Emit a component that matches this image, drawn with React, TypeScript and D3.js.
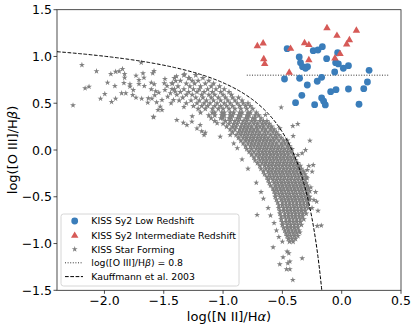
import * as d3 from 'd3'

// KISS Seyfert 2 (low redshift), [log NII/Ha, log OIII/Hb]
const sy2Low: [number, number][] = [
  [-0.46, 1.083], [-0.482, 0.759], [-0.358, 0.995], [-0.347, 0.934], [-0.33, 0.891],
  [-0.305, 0.874], [-0.288, 0.891], [-0.355, 0.767], [-0.29, 0.695], [-0.336, 0.585],
  [-0.389, 0.506], [-0.24, 1.062], [-0.2, 1.069], [-0.163, 1.105], [-0.127, 0.976],
  [-0.206, 0.735], [-0.169, 0.777], [-0.228, 0.485], [-0.169, 0.556], [-0.152, 0.521],
  [-0.138, 0.482], [-0.093, 0.624], [-0.048, 0.645], [-0.034, 1.04], [-0.051, 0.934],
  [-0.028, 0.92], [-0.059, 0.834], [0.014, 0.874], [0.057, 0.902], [0.057, 0.652],
  [0.146, 0.489], [0.186, 0.656], [0.217, 0.727], [0.231, 0.852],
]

// KISS Seyfert 2 (intermediate redshift)
const sy2Mid: [number, number][] = [
  [-0.711, 1.112], [-0.662, 1.141], [-0.657, 0.973], [-0.649, 0.92], [-0.431, 1.083],
  [-0.442, 0.827], [-0.313, 1.144], [-0.277, 1.123], [-0.277, 0.962], [-0.124, 1.304],
  [-0.04, 1.222], [0.124, 1.276], [0.042, 1.13], [0.065, 1.176], [-0.057, 0.98],
  [-0.014, 1.027],
]

// star-forming galaxies, main sequence: rows of [logOIII/Hb, logNII/Ha, logNII/Ha, ...]
const sfRows: number[][] = [
  [0.8, -1.33, -1.23],
  [0.77, -1.41, -1.29, -1.17],
  [0.74, -1.36, -1.26, -1.21, -1.12],
  [0.71, -1.43, -1.31, -1.24, -1.15, -1.08],
  [0.68, -1.38, -1.28, -1.19, -1.1, -1.03],
  [0.65, -1.41, -1.33, -1.25, -1.2, -1.13, -1.06, -0.99],
  [0.62, -1.36, -1.29, -1.22, -1.16, -1.09, -1.02, -0.95],
  [0.59, -1.39, -1.31, -1.26, -1.18, -1.12, -1.07, -1.0, -0.93],
  [0.56, -1.34, -1.23, -1.17, -1.1, -1.04, -0.98, -0.92, -0.87],
  [0.53, -1.37, -1.27, -1.2, -1.14, -1.08, -1.02, -0.96, -0.9, -0.84],
  [0.5, -1.31, -1.22, -1.16, -1.11, -1.05, -0.99, -0.94, -0.88, -0.83, -0.79],
  [0.47, -1.25, -1.18, -1.13, -1.07, -1.02, -0.97, -0.92, -0.86, -0.81, -0.77],
  [0.44, -1.21, -1.15, -1.09, -1.04, -1.0, -0.95, -0.9, -0.85, -0.8, -0.75],
  [0.4, -1.19, -1.09, -1.07, -1.01, -0.99, -0.94, -0.91, -0.86, -0.84, -0.79, -0.77, -0.72],
  [0.37, -1.12, -1.07, -1.01, -0.99, -0.94, -0.92, -0.87, -0.85, -0.8, -0.78, -0.73, -0.7],
  [0.34, -1.1, -1.02, -1.0, -0.95, -0.93, -0.88, -0.86, -0.81, -0.79, -0.75, -0.73, -0.68],
  [0.31, -1.07, -0.98, -0.94, -0.9, -0.87, -0.83, -0.8, -0.76, -0.73, -0.69, -0.66, -0.63],
  [0.28, -1.0, -0.95, -0.91, -0.88, -0.84, -0.81, -0.78, -0.74, -0.71, -0.67, -0.64, -0.61],
  [0.25, -0.97, -0.92, -0.89, -0.85, -0.82, -0.79, -0.76, -0.72, -0.69, -0.66, -0.62, -0.59],
  [0.22, -0.94, -0.9, -0.86, -0.83, -0.8, -0.77, -0.74, -0.71, -0.67, -0.64, -0.6, -0.57],
  [0.19, -0.92, -0.87, -0.84, -0.81, -0.78, -0.75, -0.72, -0.69, -0.65, -0.62, -0.58, -0.55],
  [0.16, -0.89, -0.85, -0.82, -0.79, -0.76, -0.73, -0.7, -0.67, -0.64, -0.6, -0.56, -0.53],
  [0.13, -0.87, -0.83, -0.8, -0.77, -0.74, -0.71, -0.68, -0.65, -0.62, -0.58, -0.55, -0.51],
  [0.1, -0.85, -0.81, -0.78, -0.75, -0.72, -0.69, -0.66, -0.63, -0.6, -0.57, -0.53, -0.49, -0.46],
  [0.07, -0.83, -0.79, -0.76, -0.73, -0.7, -0.67, -0.64, -0.61, -0.58, -0.55, -0.51, -0.48, -0.45],
  [0.04, -0.81, -0.77, -0.74, -0.71, -0.68, -0.65, -0.62, -0.59, -0.56, -0.53, -0.5, -0.46, -0.44],
  [0.01, -0.8, -0.76, -0.72, -0.69, -0.66, -0.63, -0.6, -0.57, -0.54, -0.51, -0.48, -0.45, -0.42],
  [-0.02, -0.78, -0.74, -0.7, -0.67, -0.64, -0.61, -0.58, -0.55, -0.52, -0.49, -0.46, -0.43],
  [-0.05, -0.76, -0.72, -0.69, -0.66, -0.63, -0.6, -0.57, -0.54, -0.51, -0.48, -0.45, -0.41],
  [-0.08, -0.74, -0.7, -0.67, -0.64, -0.61, -0.58, -0.55, -0.52, -0.49, -0.46, -0.43, -0.4],
  [-0.11, -0.73, -0.69, -0.66, -0.63, -0.6, -0.57, -0.54, -0.51, -0.48, -0.45, -0.42, -0.39],
  [-0.14, -0.71, -0.67, -0.64, -0.61, -0.58, -0.55, -0.52, -0.49, -0.46, -0.43, -0.4, -0.37],
  [-0.17, -0.69, -0.65, -0.62, -0.59, -0.56, -0.53, -0.5, -0.47, -0.44, -0.41, -0.38, -0.35],
  [-0.2, -0.68, -0.64, -0.61, -0.58, -0.55, -0.52, -0.49, -0.46, -0.43, -0.4, -0.37, -0.34],
  [-0.23, -0.66, -0.62, -0.59, -0.56, -0.53, -0.5, -0.47, -0.44, -0.41, -0.38, -0.35, -0.32],
  [-0.26, -0.65, -0.61, -0.58, -0.55, -0.52, -0.49, -0.46, -0.43, -0.4, -0.37, -0.34, -0.31],
  [-0.29, -0.63, -0.6, -0.57, -0.54, -0.51, -0.48, -0.45, -0.42, -0.39, -0.36, -0.33, -0.3],
  [-0.32, -0.62, -0.58, -0.55, -0.52, -0.49, -0.46, -0.43, -0.4, -0.37, -0.34, -0.31],
  [-0.35, -0.61, -0.57, -0.54, -0.51, -0.48, -0.45, -0.42, -0.39, -0.36, -0.33, -0.3],
  [-0.38, -0.6, -0.56, -0.53, -0.5, -0.47, -0.44, -0.41, -0.38, -0.35, -0.32, -0.29],
  [-0.41, -0.58, -0.55, -0.52, -0.49, -0.46, -0.43, -0.4, -0.37, -0.34, -0.31, -0.28],
  [-0.44, -0.57, -0.54, -0.51, -0.48, -0.45, -0.42, -0.39, -0.36, -0.33, -0.3, -0.27],
  [-0.47, -0.56, -0.53, -0.5, -0.47, -0.44, -0.41, -0.38, -0.35, -0.32, -0.29],
  [-0.5, -0.56, -0.52, -0.49, -0.46, -0.43, -0.4, -0.37, -0.34, -0.31, -0.28],
  [-0.53, -0.55, -0.51, -0.48, -0.45, -0.42, -0.39, -0.36, -0.33, -0.3, -0.27],
  [-0.56, -0.54, -0.5, -0.47, -0.44, -0.41, -0.38, -0.35, -0.32, -0.29],
  [-0.59, -0.53, -0.5, -0.47, -0.44, -0.41, -0.38, -0.35, -0.32, -0.29],
  [-0.62, -0.53, -0.49, -0.46, -0.43, -0.4, -0.37, -0.34, -0.31, -0.28],
  [-0.65, -0.52, -0.49, -0.46, -0.43, -0.4, -0.37, -0.34, -0.31],
  [-0.68, -0.52, -0.48, -0.45, -0.42, -0.39, -0.36, -0.33, -0.3],
  [-0.71, -0.51, -0.48, -0.45, -0.42, -0.39, -0.36, -0.33],
  [-0.74, -0.51, -0.47, -0.44, -0.41, -0.38, -0.35, -0.32],
  [-0.77, -0.5, -0.47, -0.44, -0.41, -0.38, -0.35],
  [-0.8, -0.5, -0.46, -0.43, -0.4, -0.37, -0.34],
  [-0.83, -0.49, -0.46, -0.43, -0.4, -0.37],
  [-0.86, -0.48, -0.45, -0.42, -0.39, -0.36],
  [-0.89, -0.47, -0.44, -0.41, -0.38],
  [-0.92, -0.46, -0.43, -0.4, -0.37],
  [-0.95, -0.45, -0.42, -0.39],
  [-0.98, -0.44, -0.41],
]

// star-forming galaxies away from the main sequence
const sfSparse: [number, number][] = [
  [-2.19, 0.909], [-2.265, 0.478], [-2.163, 0.66], [-2.13, 0.677], [-2.067, 0.842],
  [-1.974, 0.72], [-1.997, 0.599], [-2.033, 0.549], [-1.94, 0.514], [-1.906, 0.549],
  [-1.946, 0.813], [-1.906, 0.837], [-1.876, 0.842], [-1.848, 0.866], [-1.83, 0.813],
  [-1.83, 0.773], [-1.912, 0.685], [-1.855, 0.607], [-1.82, 0.607], [-1.836, 0.717],
  [-1.785, 0.703], [-1.785, 0.677], [-1.762, 0.588], [-1.734, 0.56], [-1.757, 0.642],
  [-1.734, 0.795], [-1.709, 0.749], [-1.709, 0.706], [-1.675, 0.82], [-1.667, 0.773],
  [-1.69, 0.934], [-1.664, 0.685], [-1.686, 0.549], [-1.63, 0.553], [-1.635, 0.506],
  [-1.593, 0.82], [-1.582, 0.845], [-1.605, 0.72], [-1.58, 0.703], [-1.605, 0.649],
  [-1.568, 0.628], [-1.542, 0.613], [-1.576, 0.585], [-1.6, 0.549], [-1.56, 0.51],
  [-1.53, 0.463], [-1.515, 0.428], [-1.548, 0.428], [-1.585, 0.35], [-1.515, 0.535],
  [-1.495, 0.713], [-1.472, 0.685], [-1.49, 0.76], [-1.467, 0.57], [-1.49, 0.642],
  [-1.43, 0.652], [-1.427, 0.713], [-1.399, 0.738], [-1.438, 0.5], [-1.418, 0.535],
  [-1.404, 0.624], [-1.444, 0.607], [-1.393, 0.788], [-1.588, 0.356], [-1.39, 0.32],
  [-1.335, 0.292], [-1.325, 0.81], [-1.283, 0.767], [-1.305, 0.268], [-1.263, 0.303],
  [-1.15, 0.186], [-1.193, 0.268], [-1.05, 0.286], [-1.024, 0.143], [-0.94, 0.161],
  [-1.26, 0.36], [-1.22, 0.23], [-1.33, 0.46], [-1.18, 0.2], [-1.16, 0.16],
  [-0.91, 0.07], [-0.88, 0.02], [-0.84, -0.1], [-0.79, -0.2], [-0.72, -0.35],
  [-0.68, -0.45], [-0.66, -0.52], [-0.62, -0.62], [-0.6, -0.7], [-0.57, -0.78],
  [-0.55, -0.86], [-0.53, -0.93], [-0.5, -0.98],
  [-0.713, -0.694], [-0.578, -1.04], [-0.522, -1.222], [-0.494, -1.147], [-0.446, -1.104],
  [-0.46, -1.086], [-0.454, -1.211], [-0.465, -1.275], [-0.437, -1.275], [-0.412, -1.389],
  [-0.333, -1.158], [-0.172, -0.808], [-0.206, -0.812], [-0.353, -0.883], [-0.234, -0.534],
  [-0.211, -0.552], [-0.29, -0.214], [-0.24, -0.16], [-0.333, -0.035], [-0.369, -0.053],
  [-0.409, 0.15], [-0.412, 0.257], [-0.37, 0.278], [-0.51, 0.456], [-0.522, 0.232],
  [-0.643, 0.375], [-0.268, 0.1], [-0.305, 0.0], [-0.277, -0.17], [-0.249, -0.231],
  [-0.291, -0.302], [-0.437, -1.193], [-0.26, -0.4], [-0.22, -0.45], [-0.25, -0.62],
  [-0.2, -0.65], [-0.27, -0.5],
]

// Kauffmann et al. 2003 demarcation: y = a / (x - b) + c
const kauffA = 0.61
const kauffB = 0.05
const kauffC = 1.3
const demarcY = 0.8
const demarcRange = [-0.8, 0.4]

const xTicks = [-2.0, -1.5, -1.0, -0.5, 0.0, 0.5]
const yTicks = [-1.5, -1.0, -0.5, 0.0, 0.5, 1.0, 1.5]

const legendLabels = [
  'KISS Sy2 Low Redshift',
  'KISS Sy2 Intermediate Redshift',
  'KISS Star Forming',
]

export default function App() {
  const W = 416, H = 328
  const L = 57, R = 401, T = 9.7, B = 290.3
  const x = d3.scaleLinear().domain([-2.4, 0.5]).range([L, R])
  const y = d3.scaleLinear().domain([-1.5, 1.5]).range([B, T])

  const blue = '#3a7dba'
  const red = '#d65a57'
  const gray = '#808080'
  const font = 'DejaVu Sans, sans-serif'
  const fmt = (v: number) => v.toFixed(1).replace('-', '\u2212')

  const starPath = d3.symbol().type(d3.symbolStar).size(11)() as string
  const starBand = d3.symbol().type(d3.symbolStar).size(13)() as string
  const triPath = d3.symbol().type(d3.symbolTriangle).size(24)() as string

  const bandPts: [number, number][] = []
  sfRows.forEach(row => row.slice(1).forEach(v => bandPts.push([v, row[0]])))

  const xEnd = kauffB + kauffA / (-1.5 - kauffC)
  const kx = d3.range(-2.4, xEnd, 0.01).concat([xEnd])
  const kLine = d3.line<number>().x(v => x(v)).y(v => y(kauffA / (v - kauffB) + kauffC))

  const legY = [221, 235.7, 249.2, 262.8, 276.6]
  const legLabelX = 91.3

  return (
    <div style={{ position: 'fixed', left: 0, top: 0 }}>
      <svg width={W} height={H} style={{ display: 'block', background: '#fff' }} fontFamily={font}>
        <defs>
          <clipPath id="plot"><rect x={L} y={T} width={R - L} height={B - T} /></clipPath>
        </defs>
        <g clipPath="url(#plot)">
          {bandPts.map((p, i) => (
            <path key={'b' + i} d={starBand} transform={`translate(${x(p[0])},${y(p[1])})`} fill={gray} />
          ))}
          {sfSparse.map((p, i) => (
            <path key={'s' + i} d={starPath} transform={`translate(${x(p[0])},${y(p[1])})`} fill={gray} />
          ))}
          <path d={kLine(kx) || ''} fill="none" stroke="#000" strokeWidth={1} strokeDasharray="3.7,1.6" />
          <line x1={x(demarcRange[0])} x2={x(demarcRange[1])} y1={y(demarcY)} y2={y(demarcY)}
            stroke="#333" strokeWidth={1} strokeDasharray="1,1.6" />
          {sy2Low.map((p, i) => (
            <circle key={'c' + i} cx={x(p[0])} cy={y(p[1])} r={3.4} fill={blue} />
          ))}
          {sy2Mid.map((p, i) => (
            <path key={'t' + i} d={triPath} transform={`translate(${x(p[0])},${y(p[1])})`} fill={red} />
          ))}
        </g>

        <rect x={L} y={T} width={R - L} height={B - T} fill="none" stroke="#222" strokeWidth={0.8} />

        {xTicks.map(t => (
          <g key={'xt' + t}>
            <line x1={x(t)} x2={x(t)} y1={B} y2={B + 3.5} stroke="#222" strokeWidth={0.8} />
            <text x={x(t)} y={B + 14.8} fontSize={12.5} textAnchor="middle" fill="#000">{fmt(t)}</text>
          </g>
        ))}
        {yTicks.map(t => (
          <g key={'yt' + t}>
            <line x1={L - 3.5} x2={L} y1={y(t)} y2={y(t)} stroke="#222" strokeWidth={0.8} />
            <text x={L - 5} y={y(t)} dy="0.36em" fontSize={12.5} textAnchor="end" fill="#000">{fmt(t)}</text>
          </g>
        ))}

        <text x={(L + R) / 2} y={320.5} fontSize={13} textAnchor="middle" fill="#000">
          log([N II]/H<tspan fontStyle="italic">α</tspan>)
        </text>
        <text transform={`translate(17,${(T + B) / 2}) rotate(-90)`} fontSize={13} textAnchor="middle" fill="#000">
          log([O III]/H<tspan fontStyle="italic">β</tspan>)
        </text>

        <g>
          <rect x={61} y={214} width={178} height={72} rx={2.5} fill="#fff" fillOpacity={0.8} stroke="#ccc" strokeWidth={0.8} />
          <circle cx={74.7} cy={legY[0]} r={3.4} fill={blue} />
          <path d={triPath} transform={`translate(74.7,${legY[1]})`} fill={red} />
          <path d={starPath} transform={`translate(74.7,${legY[2]})`} fill={gray} />
          <line x1={65} x2={83} y1={legY[3]} y2={legY[3]} stroke="#333" strokeWidth={1} strokeDasharray="1,1.6" />
          <line x1={65} x2={83} y1={legY[4]} y2={legY[4]} stroke="#000" strokeWidth={1} strokeDasharray="3.7,1.6" />
          {legendLabels.map((s, i) => (
            <text key={s} x={legLabelX} y={legY[i]} dy="0.36em" fontSize={9.3} fill="#000">{s}</text>
          ))}
          <text x={legLabelX} y={legY[3]} dy="0.36em" fontSize={9.3} fill="#000">
            log([O III]/H<tspan fontStyle="italic">β</tspan>) = 0.8
          </text>
          <text x={legLabelX} y={legY[4]} dy="0.36em" fontSize={9.3} fill="#000">Kauffmann et al. 2003</text>
        </g>
      </svg>
    </div>
  )
}
